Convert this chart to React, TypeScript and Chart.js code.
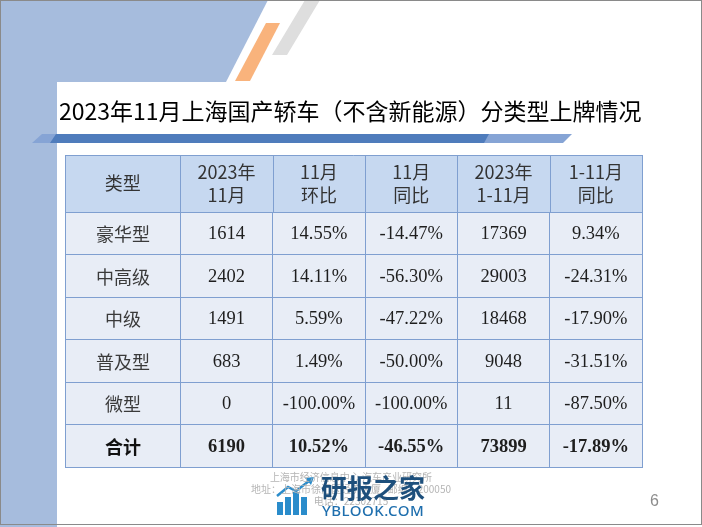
import React, { useEffect, useRef } from 'react';
import { Chart, registerables } from 'chart.js';

Chart.register(...registerables);

// ---- data ----
const headerLines: string[][] = [
  ['类型'],
  ['2023年', '11月'],
  ['11月', '环比'],
  ['11月', '同比'],
  ['2023年', '1-11月'],
  ['1-11月', '同比'],
];
const categories = ['豪华型', '中高级', '中级', '普及型', '微型', '合计'];
const novVolume = [1614, 2402, 1491, 683, 0, 6190];
const novMoM = [14.55, 14.11, 5.59, 1.49, -100.0, 10.52];
const novYoY = [-14.47, -56.3, -47.22, -50.0, -100.0, -46.55];
const ytdVolume = [17369, 29003, 18468, 9048, 11, 73899];
const ytdYoY = [9.34, -24.31, -17.9, -31.51, -87.5, -17.89];
const columnSpans = [5, 4, 4, 4, 4, 4];

const pct = (v: number) => v.toFixed(2) + '%';
const cellText = (col: number, row: number): string => {
  switch (col) {
    case 0: return categories[row];
    case 1: return String(novVolume[row]);
    case 2: return pct(novMoM[row]);
    case 3: return pct(novYoY[row]);
    case 4: return String(ytdVolume[row]);
    default: return pct(ytdYoY[row]);
  }
};

const boundaries = columnSpans.reduce<number[]>((acc, s) => { acc.push(acc[acc.length - 1] + s); return acc; }, [0]);
const totalSpan = boundaries[boundaries.length - 1];

const LINE = '#7f9fd0';
const HEADER_BG = '#c6d8f0';
const BODY_BG = '#e8edf6';
const HEADER_H = 57;
const CJK = '"Noto Sans CJK SC", "Noto Sans", sans-serif';
const SERIF = '"Liberation Serif", "DejaVu Serif", serif';

const decorPlugin = {
  id: 'decor',
  beforeDraw(chart: any) {
    const ctx = chart.ctx as CanvasRenderingContext2D;
    ctx.save();
    ctx.fillStyle = '#ffffff';
    ctx.fillRect(0, 0, chart.width, chart.height);
    // blue background block
    ctx.fillStyle = '#a6bcdd';
    ctx.beginPath();
    ctx.moveTo(0, 0); ctx.lineTo(268, 0); ctx.lineTo(226, 82); ctx.lineTo(0, 82); ctx.closePath();
    ctx.fill();
    ctx.fillRect(0, 82, 57, chart.height);
    // white panel with rounded corner
    ctx.fillStyle = '#ffffff';
    ctx.beginPath();
    ctx.roundRect(57, 82, 700, 500, 9);
    ctx.fill();
    // orange stripe
    ctx.fillStyle = '#f9b37c';
    ctx.beginPath();
    ctx.moveTo(266, 23); ctx.lineTo(280, 23); ctx.lineTo(250, 81); ctx.lineTo(235, 81); ctx.closePath();
    ctx.fill();
    // gray stripe
    ctx.fillStyle = '#dedede';
    ctx.beginPath();
    ctx.moveTo(305, 0); ctx.lineTo(320, 0); ctx.lineTo(287, 55); ctx.lineTo(272, 55); ctx.closePath();
    ctx.fill();
    // title underline bar
    ctx.fillStyle = '#86a4d5';
    ctx.beginPath();
    ctx.moveTo(42, 134); ctx.lineTo(572, 134); ctx.lineTo(563, 143); ctx.lineTo(32, 143); ctx.closePath();
    ctx.fill();
    ctx.fillStyle = '#4f7cbc';
    ctx.beginPath();
    ctx.moveTo(56, 134); ctx.lineTo(489, 134); ctx.lineTo(484, 143); ctx.lineTo(50, 143); ctx.closePath();
    ctx.fill();
    // slide border
    ctx.strokeStyle = '#8a8a8a';
    ctx.lineWidth = 1;
    ctx.strokeRect(0.5, 0.5, chart.width - 1, 524);
    ctx.restore();
  },
  afterDraw(chart: any) {
    const ctx = chart.ctx as CanvasRenderingContext2D;
    const xs = chart.scales.x;
    const area = chart.chartArea;
    const top = area.top - HEADER_H;
    ctx.save();
    // header row
    ctx.fillStyle = HEADER_BG;
    ctx.fillRect(area.left, top, area.right - area.left, HEADER_H);
    ctx.strokeStyle = LINE;
    ctx.lineWidth = 1;
    ctx.beginPath();
    ctx.moveTo(area.left, Math.round(top) + 0.5);
    ctx.lineTo(area.right, Math.round(top) + 0.5);
    boundaries.forEach((b) => {
      const px = Math.round(xs.getPixelForValue(b)) + 0.5;
      ctx.moveTo(px, top);
      ctx.lineTo(px, area.top);
    });
    ctx.stroke();
    ctx.fillStyle = '#333333';
    ctx.textAlign = 'center';
    ctx.textBaseline = 'middle';
    ctx.font = `18px ${CJK}`;
    headerLines.forEach((lines, c) => {
      const cx = (xs.getPixelForValue(boundaries[c]) + xs.getPixelForValue(boundaries[c + 1])) / 2;
      const cy = top + HEADER_H / 2;
      if (lines.length === 1) {
        ctx.fillText(lines[0], cx, cy);
      } else {
        ctx.fillText(lines[0], cx, cy - 11);
        ctx.fillText(lines[1], cx, cy + 12);
      }
    });
    // body text
    chart.data.datasets.forEach((_: any, col: number) => {
      const meta = chart.getDatasetMeta(col);
      meta.data.forEach((el: any, row: number) => {
        const p = el.getCenterPoint();
        const bold = row === categories.length - 1;
        if (col === 0) {
          ctx.font = `${bold ? 'bold ' : ''}18px ${CJK}`;
          ctx.fillStyle = bold ? '#111111' : '#3a3a3a';
        } else {
          ctx.font = `${bold ? 'bold ' : ''}18.5px ${SERIF}`;
          ctx.fillStyle = '#1e1e1e';
        }
        ctx.fillText(cellText(col, row), p.x, p.y + 1);
      });
    });
    // watermark logo icon
    ctx.fillStyle = '#2a8ccb';
    const bars = [[277, 502, 6], [285, 497, 6], [293, 492, 6], [301, 497, 6]];
    bars.forEach(([x, y, w]) => ctx.fillRect(x, y, w, 515 - y));
    ctx.strokeStyle = '#2a8ccb';
    ctx.lineWidth = 2.5;
    ctx.beginPath();
    ctx.moveTo(277, 496); ctx.lineTo(288, 487); ctx.lineTo(296, 491); ctx.lineTo(309, 481);
    ctx.stroke();
    ctx.beginPath();
    ctx.moveTo(314, 477); ctx.lineTo(305, 478); ctx.lineTo(311, 485); ctx.closePath();
    ctx.fill();
    ctx.restore();
  },
};

export default function App() {
  const ref = useRef<HTMLCanvasElement | null>(null);
  useEffect(() => {
    if (!ref.current) return;
    const chart = new Chart(ref.current, {
      type: 'bar',
      data: {
        labels: categories,
        datasets: columnSpans.map((span, i) => ({
          label: headerLines[i].join(''),
          data: categories.map(() => span),
          backgroundColor: BODY_BG,
          borderWidth: 0,
          categoryPercentage: 1,
          barPercentage: 1,
        })),
      },
      options: {
        indexAxis: 'y',
        responsive: false,
        animation: false,
        devicePixelRatio: 1,
        layout: { padding: { left: 65, right: 60, top: 155 + HEADER_H, bottom: 60 } },
        plugins: { legend: { display: false }, tooltip: { enabled: false }, title: { display: false } },
        events: [],
        scales: {
          x: {
            stacked: true,
            min: 0,
            max: totalSpan,
            z: 1,
            ticks: { display: false },
            grid: { color: LINE, lineWidth: 1, drawTicks: false, z: 1 },
            border: { display: true, color: LINE, z: 1 },
            afterBuildTicks: (axis: any) => { axis.ticks = boundaries.map((v) => ({ value: v })); },
          },
          y: {
            stacked: true,
            z: 1,
            ticks: { display: false },
            grid: { color: LINE, lineWidth: 1, drawTicks: false, offset: true, z: 1 },
            border: { display: true, color: LINE, z: 1 },
          },
        },
      } as any,
      plugins: [decorPlugin],
    });
    return () => chart.destroy();
  }, []);

  return (
    <div style={{ position: 'absolute', left: 0, top: 0, width: 702, height: 527, overflow: 'hidden', background: '#fff' }}>
      <canvas ref={ref} width={702} height={527} style={{ position: 'absolute', left: 0, top: 0, width: 702, height: 527 }} />
      <div style={{ position: 'absolute', left: 59, top: 99, fontFamily: CJK, fontSize: 23, lineHeight: '23px', color: '#000', whiteSpace: 'nowrap' }}>
        2023年11月上海国产轿车（不含新能源）分类型上牌情况
      </div>
      <div style={{ position: 'absolute', left: 200, width: 302, top: 471, textAlign: 'center', fontFamily: '"Noto Sans CJK SC", serif', fontSize: 10, lineHeight: '12px', color: '#b5b5b5', whiteSpace: 'nowrap' }}>
        <div>上海市经济信息中心 汽车产业研究所</div>
        <div>地址：上海市徐汇区经济大厦 &nbsp; 邮编：200050</div>
        <div>电话：22302715</div>
      </div>
      <div style={{ position: 'absolute', left: 321, top: 472, fontFamily: CJK, fontWeight: 'bold', fontSize: 26, lineHeight: '30px', color: '#1d4f7c', whiteSpace: 'nowrap', letterSpacing: 0 }}>
        研报之家
      </div>
      <div style={{ position: 'absolute', left: 322, top: 502, fontFamily: '"Noto Sans", sans-serif', fontWeight: 500, fontSize: 15, lineHeight: '17px', color: '#1f6fae', whiteSpace: 'nowrap', letterSpacing: 0.5 }}>
        YBLOOK.COM
      </div>
      <div style={{ position: 'absolute', left: 650, top: 492, fontFamily: '"Liberation Sans", sans-serif', fontSize: 16, lineHeight: '18px', color: '#8c8c8c' }}>
        6
      </div>
    </div>
  );
}
